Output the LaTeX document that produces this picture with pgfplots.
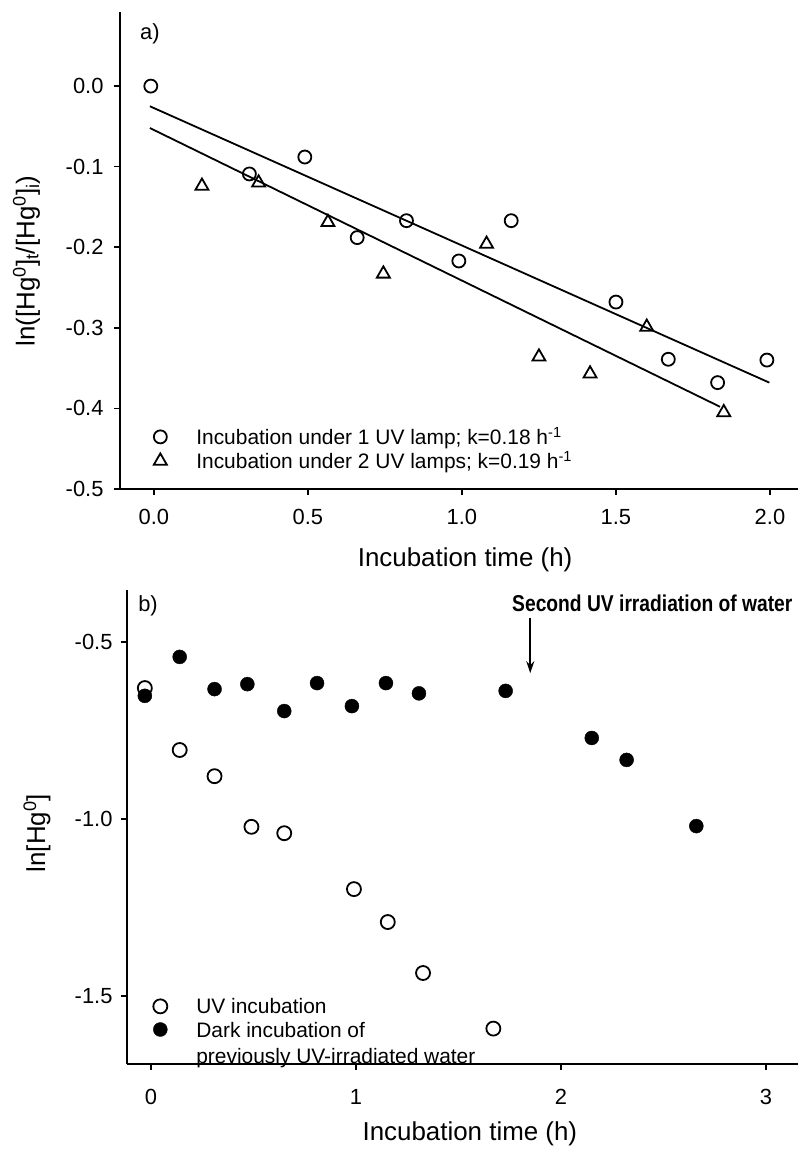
\documentclass[border=0pt]{standalone}
\usepackage{fontspec}
\setmainfont{Liberation Sans}
\newfontfamily\annfont[FakeStretch=0.84]{Liberation Sans}
\usepackage{pgfplots}
\pgfplotsset{compat=1.18}
\usetikzlibrary{arrows.meta}
\pgfplotsset{myax/.style={
  scale only axis,
  axis x line*=bottom, axis y line*=left,
  axis line style={line width=2bp,-},
  tick align=outside,
  major tick length=6bp,
  major tick style={line width=1.6bp,black},
  tick label style={font=\fontsize{22}{26}\selectfont},
  /pgf/number format/assume math mode=true,
  label style={font=\fontsize{26}{31}\selectfont},
  clip=false,
  legend cell align=left,
  legend image code/.code={\path[draw=none,fill=none] (-8bp,0bp) -- (34bp,0bp); \draw[##1] plot coordinates {(0bp,0bp)};},
}}
\begin{document}
\begin{tikzpicture}
\useasboundingbox (0,0) rectangle (802bp,1152bp);
% ---------------- panel a ----------------
\begin{axis}[myax,
  at={(120bp,663bp)}, anchor=south west,
  width=678bp, height=477bp,
  xmin=-0.110, xmax=2.091, ymin=-0.5, ymax=0.092,
  xtick={0,0.5,1,1.5,2},
  ytick={-0.5,-0.4,-0.3,-0.2,-0.1,0},
  xticklabel style={/pgf/number format/fixed, /pgf/number format/fixed zerofill, /pgf/number format/precision=1, yshift=-11bp},
  yticklabel style={/pgf/number format/fixed, /pgf/number format/fixed zerofill, /pgf/number format/precision=1, xshift=-7bp},
  xlabel={Incubation time (h)},
  ylabel={ln([Hg\textsuperscript{0}]\textsubscript{t}/[Hg\textsuperscript{0}]\textsubscript{i})},
  xlabel style={at={(axis description cs:0.509,-0.149)}, anchor=center},
  ylabel style={at={(axis description cs:-0.138,0.478)}, anchor=center, rotate=0},
  legend style={at={(axis description cs:0.043,0.138)}, anchor=north west, draw=none, fill=none,
    font=\fontsize{21}{25}\selectfont, row sep=1bp},
]
\addplot[only marks, mark=o, mark size=6.5bp, mark options={line width=1.8bp, fill=white}] coordinates {
(-0.01,0.0) (0.31,-0.109) (0.49,-0.088) (0.66,-0.188) (0.82,-0.167) (0.99,-0.217)
(1.16,-0.167) (1.50,-0.268) (1.67,-0.339) (1.83,-0.368) (1.99,-0.340)};
\addlegendentry{Incubation under 1 UV lamp; k=0.18 h\textsuperscript{-1}}
\addplot[only marks, mark=triangle, mark size=7.5bp, mark options={line width=1.8bp}] coordinates {
(0.156,-0.124) (0.34,-0.120) (0.565,-0.169) (0.745,-0.233) (1.08,-0.196)
(1.25,-0.336) (1.416,-0.357) (1.60,-0.299) (1.85,-0.405)};
\addlegendentry{Incubation under 2 UV lamps; k=0.19 h\textsuperscript{-1}}
\addplot[black, line width=1.8bp, forget plot] coordinates {(-0.013,-0.025) (1.998,-0.368)};
\addplot[black, line width=1.8bp, forget plot] coordinates {(-0.013,-0.052) (1.838,-0.398)};
\node[anchor=base west, inner sep=0, font=\fontsize{22}{26}\selectfont] at (axis cs:-0.045,0.058) {a)};
\end{axis}
% ---------------- panel b ----------------
\begin{axis}[myax,
  at={(127bp,88bp)}, anchor=south west,
  width=671bp, height=474bp,
  xmin=-0.117, xmax=3.156, ymin=-1.692, ymax=-0.353,
  xtick={0,1,2,3},
  ytick={-1.5,-1.0,-0.5},
  yticklabel style={/pgf/number format/fixed, /pgf/number format/fixed zerofill, /pgf/number format/precision=1, xshift=-5bp},
  xticklabel style={yshift=-16bp},
  xlabel={Incubation time (h)},
  ylabel={ln[Hg\textsuperscript{0}]},
  xlabel style={at={(axis description cs:0.511,-0.148)}, anchor=center},
  ylabel style={at={(axis description cs:-0.134,0.487)}, anchor=center, rotate=0},
  legend style={at={(axis description cs:0.033,0.148)}, anchor=north west, draw=none, fill=none,
    font=\fontsize{21}{26}\selectfont, row sep=1bp},
]
\addplot[only marks, mark=o, mark size=7bp, mark options={line width=1.8bp, fill=white}] coordinates {
(-0.03,-0.63) (0.14,-0.805) (0.31,-0.879) (0.49,-1.022) (0.65,-1.040)
(0.99,-1.198) (1.155,-1.291) (1.327,-1.435) (1.67,-1.592)};
\addlegendentry{UV incubation}
\addplot[only marks, mark=*, mark size=7bp, mark options={fill=black}] coordinates {
(-0.03,-0.652) (0.14,-0.542) (0.31,-0.633) (0.47,-0.619) (0.65,-0.695)
(0.81,-0.616) (0.98,-0.681) (1.146,-0.616) (1.307,-0.645) (1.73,-0.638)
(2.15,-0.771) (2.32,-0.833) (2.66,-1.020)};
\addlegendentry{\begin{tabular}[t]{@{}l@{}}Dark incubation of\\previously UV-irradiated water\end{tabular}}
\draw[line width=1.7bp, -{Stealth[length=12bp,width=8bp]}] (axis cs:1.85,-0.432) -- (axis cs:1.85,-0.588);
\node[anchor=base west, inner sep=0, font=\annfont\bfseries\fontsize{23}{27}\selectfont] at (axis cs:1.761,-0.415) {Second UV irradiation of water};
\node[anchor=base west, inner sep=0, font=\fontsize{22}{26}\selectfont] at (axis cs:-0.063,-0.415) {b)};
\end{axis}
\end{tikzpicture}
\end{document}
